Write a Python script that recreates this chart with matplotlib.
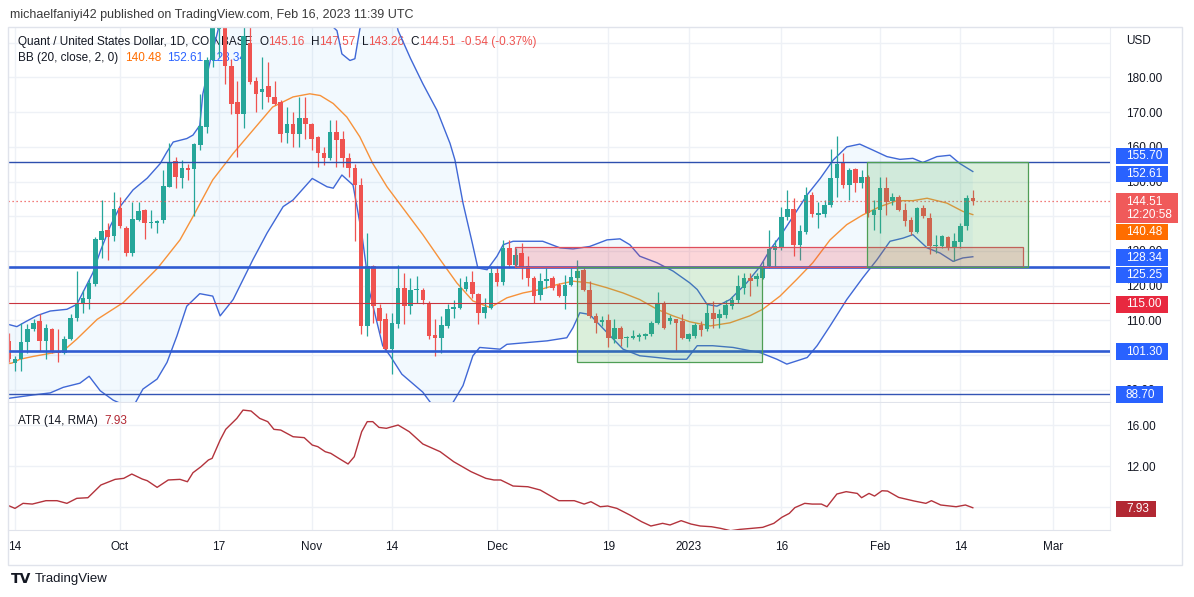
import matplotlib
matplotlib.use("Agg")
import matplotlib.pyplot as plt
from matplotlib.patches import Rectangle
from matplotlib.transforms import IdentityTransform
import numpy as np
import pandas as pd

plt.rcParams['font.family'] = ['Liberation Sans', 'DejaVu Sans']

W, H = 1194, 597

# ---------------- data ----------------
first_date = "2022-09-13"
ref_date = "2022-09-14"

opens = [104.0, 97.7, 99.0, 103.8, 107.6, 109.8, 104.1, 107.6, 101.2, 100.5,
         104.6, 110.8, 114.6, 116.2, 120.6, 133.3, 136.1, 134.2, 142.4, 136.6,
         129.4, 138.9, 141.9, 138.1, 138.2, 138.8, 148.5, 155.9, 151.0, 153.9,
         153.5, 160.5, 165.8, 184.9, 194.0, 197.0, 183.4, 172.9, 169.6, 190.0,
         179.1, 175.8, 177.5, 174.4, 172.9, 164.0, 166.7, 163.8, 168.2, 166.7,
         162.9, 158.1, 156.7, 164.3, 162.4, 156.7, 153.8, 149.0, 108.4, 125.6,
         113.6, 110.3, 101.7, 108.9, 119.4, 114.1, 118.7, 118.9, 115.1, 105.7,
         105.0, 108.4, 113.4, 113.6, 119.1, 121.0, 117.5, 112.0, 113.6, 123.7,
         121.0, 130.9, 126.1, 129.4, 125.6, 122.3, 117.2, 121.3, 122.3, 120.3,
         117.0, 120.3, 122.3, 124.6, 118.9, 111.3, 109.5, 110.0, 104.6, 107.9,
         104.8, 105.0, 105.2, 105.5, 106.0, 109.3, 114.9, 109.8, 110.3, 109.8,
         104.6, 105.5, 108.6, 107.4, 112.0, 110.8, 111.5, 114.1, 115.9, 119.4,
         122.3, 121.8, 122.3, 125.6, 130.4, 130.9, 139.7, 142.0, 131.8, 135.4,
         146.2, 140.4, 140.7, 143.3, 150.9, 155.7, 149.0, 153.5, 149.7, 151.4,
         140.4, 141.9, 148.1, 144.5, 145.7, 141.9, 139.0, 135.6, 142.3, 139.5,
         131.3, 131.3, 134.0, 130.9, 132.5, 137.1, 145.16]
highs = [106.5, 99.8, 109.3, 108.9, 110.3, 111.7, 108.9, 107.9, 107.4, 105.5,
         111.7, 124.2, 118.9, 121.9, 134.0, 144.7, 138.0, 147.1, 145.7, 137.1,
         144.2, 144.2, 142.0, 141.9, 139.0, 153.3, 161.0, 157.2, 156.2, 155.0,
         161.0, 175.3, 186.0, 198.0, 200.0, 199.0, 185.4, 179.1, 196.0, 195.0,
         180.1, 185.8, 184.5, 179.0, 173.4, 171.5, 170.0, 174.4, 174.4, 167.0,
         163.0, 160.0, 167.7, 167.7, 164.5, 158.1, 155.2, 150.9, 135.2, 126.1,
         114.6, 112.2, 112.2, 126.1, 123.7, 122.3, 122.7, 119.4, 115.5, 110.5,
         111.3, 114.6, 116.0, 122.3, 122.7, 124.2, 118.0, 116.5, 125.6, 125.6,
         133.2, 133.2, 130.9, 132.3, 128.5, 122.7, 123.7, 125.1, 122.7, 120.8,
         123.2, 125.1, 127.5, 125.1, 121.3, 112.2, 111.3, 111.7, 110.3, 108.4,
         105.5, 107.2, 106.5, 106.5, 109.8, 118.2, 115.6, 111.5, 110.5, 111.7,
         106.5, 109.3, 109.8, 115.1, 115.6, 113.2, 116.0, 117.0, 123.2, 123.7,
         123.7, 123.7, 127.0, 136.1, 133.2, 142.8, 147.6, 145.2, 137.6, 148.5,
         147.1, 144.2, 144.7, 159.5, 163.1, 158.1, 153.8, 153.8, 153.3, 151.9,
         144.7, 151.4, 151.4, 146.6, 146.2, 143.8, 139.9, 142.8, 143.3, 140.9,
         134.7, 134.7, 134.4, 135.2, 138.0, 146.2, 147.57]
lows = [98.0, 95.5, 95.5, 100.7, 107.0, 101.2, 98.8, 100.7, 97.9, 100.2,
        104.4, 109.8, 112.2, 113.2, 119.8, 128.0, 127.5, 132.8, 136.6, 128.5,
        128.5, 138.5, 133.4, 136.6, 135.3, 138.0, 148.3, 148.1, 148.1, 150.5,
        140.0, 159.1, 164.0, 183.0, 186.0, 178.2, 169.6, 157.0, 165.3, 178.2,
        170.1, 171.0, 173.0, 172.0, 161.4, 161.0, 160.0, 160.0, 162.4, 159.0,
        154.3, 154.8, 156.2, 154.3, 154.3, 151.4, 132.8, 106.0, 105.5, 109.3,
        106.5, 100.8, 94.5, 107.9, 108.9, 111.7, 115.1, 114.6, 104.6, 99.8,
        100.7, 107.9, 110.8, 113.2, 118.4, 116.5, 108.9, 110.8, 113.4, 119.9,
        120.3, 125.1, 125.1, 121.8, 119.9, 115.1, 116.0, 119.4, 118.9, 116.8,
        113.2, 119.9, 121.8, 118.4, 110.8, 106.5, 108.4, 102.2, 103.6, 102.7,
        102.2, 104.6, 104.1, 104.6, 105.5, 108.9, 107.4, 108.9, 101.2, 104.6,
        104.1, 105.0, 105.5, 106.9, 107.9, 107.9, 110.8, 113.2, 115.1, 117.5,
        117.0, 119.9, 121.8, 125.1, 125.6, 130.4, 139.0, 128.5, 127.5, 135.0,
        139.9, 136.6, 139.9, 142.8, 145.7, 148.1, 144.7, 147.1, 148.1, 139.9,
        136.1, 135.2, 140.4, 143.3, 141.4, 137.1, 134.7, 135.2, 139.5, 129.2,
        129.4, 130.9, 130.2, 127.0, 130.9, 136.1, 143.26]
closes = [99.0, 99.0, 103.8, 107.6, 109.3, 104.1, 107.9, 101.0, 100.5, 104.6,
          110.8, 114.6, 116.5, 120.8, 133.4, 135.9, 133.9, 142.1, 137.1, 129.4,
          139.2, 141.4, 138.2, 138.4, 138.7, 148.7, 155.7, 151.2, 154.0, 153.3,
          160.8, 166.0, 184.9, 196.0, 197.0, 183.4, 172.5, 169.6, 192.0, 178.7,
          175.3, 176.8, 174.5, 172.5, 163.8, 166.7, 163.8, 168.2, 166.5, 162.4,
          158.1, 156.7, 164.3, 161.9, 156.7, 153.8, 149.0, 108.4, 125.6, 114.1,
          109.8, 101.7, 109.3, 119.4, 114.1, 118.9, 119.0, 116.0, 105.5, 105.0,
          108.6, 113.2, 113.9, 119.4, 121.0, 117.5, 112.2, 113.8, 123.7, 121.0,
          130.9, 126.1, 128.9, 125.1, 122.3, 117.0, 121.3, 121.8, 119.4, 117.0,
          120.3, 122.5, 124.2, 118.9, 111.3, 109.3, 110.1, 105.0, 107.9, 104.6,
          105.0, 105.5, 105.7, 106.0, 109.3, 114.6, 107.9, 110.8, 109.3, 105.0,
          106.0, 108.6, 107.2, 112.0, 110.3, 111.7, 114.3, 116.0, 119.9, 122.3,
          121.3, 122.7, 125.6, 130.6, 131.3, 139.9, 142.0, 131.8, 135.9, 146.2,
          140.7, 140.9, 143.3, 150.9, 155.2, 149.0, 153.3, 149.7, 151.4, 140.9,
          141.9, 148.1, 144.2, 145.7, 141.9, 138.5, 135.6, 142.3, 140.1, 131.3,
          131.8, 134.2, 130.9, 132.8, 137.1, 145.2, 144.51]

# Bollinger bands (day offset from ref_date, value)
bb_upper = [(-1.2, 108.9), (0.3, 108.2), (1.9, 109.8), (3.6, 111.4), (5.7, 112.7), (8.4, 113.2),
            (10.0, 114.6), (12.6, 123.7), (13.8, 129.9), (15.4, 137.1), (17.0, 142.8), (19.1, 147.6),
            (21.4, 151.0), (23.5, 155.2), (24.6, 158.6), (25.6, 161.4), (27.8, 162.4), (28.8, 163.4),
            (29.9, 166.2), (30.4, 175.3), (31.6, 184.9), (33.2, 196.0), (38.0, 205.0), (44.5, 204.0),
            (49.4, 198.0), (52.1, 193.5), (52.9, 186.8), (54.2, 184.9), (55.0, 185.4), (55.8, 193.9),
            (57.4, 205.0), (59.9, 210.0), (62.0, 193.5), (64.0, 185.5), (66.0, 178.2), (68.3, 170.5),
            (70.4, 161.0), (71.2, 156.2), (72.5, 143.8), (74.0, 132.3), (74.9, 125.1), (76.4, 124.6),
            (78.0, 128.5), (79.0, 131.8), (80.6, 132.8), (82.8, 132.8), (85.4, 132.8), (88.2, 130.9),
            (90.3, 130.6), (93.0, 131.3), (95.8, 133.2), (97.9, 133.5), (99.5, 131.8), (101.1, 128.5),
            (103.9, 126.6), (106.5, 124.2), (109.2, 120.8), (110.4, 118.9), (112.0, 114.6), (113.6, 114.1),
            (115.7, 116.0), (118.4, 120.8), (120.6, 125.6), (122.2, 130.4), (123.8, 134.2), (125.9, 139.9),
            (128.2, 146.2), (130.3, 150.9), (132.4, 156.2), (134.6, 160.0), (136.7, 160.8), (138.8, 159.1),
            (141.1, 157.2), (143.2, 156.4), (145.3, 156.7), (146.9, 155.5), (149.2, 157.2), (151.3, 157.6),
            (152.9, 155.2), (155.0, 152.9)]
bb_basis = [(-1.2, 97.5), (-0.5, 97.7), (0.8, 98.8), (2.9, 99.6), (5.7, 100.5), (7.8, 101.2),
            (10.0, 104.6), (13.3, 110.3), (17.5, 115.1), (20.7, 120.8), (23.1, 125.1), (26.7, 133.2),
            (28.8, 139.9), (32.0, 150.5), (35.3, 158.1), (38.5, 164.8), (41.7, 171.5), (45.0, 174.4),
            (47.7, 175.3), (49.4, 174.8), (51.5, 172.5), (53.7, 168.6), (55.8, 162.9), (57.9, 155.2),
            (60.2, 148.5), (62.3, 143.5), (66.0, 134.7), (68.8, 127.5), (71.5, 120.8), (74.1, 115.6),
            (76.9, 113.7), (79.6, 116.5), (82.2, 117.9), (85.0, 118.9), (87.7, 120.3), (90.3, 121.3),
            (93.0, 120.8), (95.8, 119.4), (98.4, 117.9), (101.1, 116.0), (103.9, 113.2), (106.5, 111.3),
            (109.2, 109.6), (112.5, 108.4), (115.7, 109.3), (118.9, 111.3), (121.0, 113.2), (123.8, 117.0),
            (126.5, 121.8), (129.1, 126.6), (131.9, 133.2), (134.6, 137.6), (137.2, 140.4), (140.0, 142.8),
            (142.7, 144.5), (145.3, 144.5), (147.6, 145.2), (150.8, 143.8), (153.4, 141.4), (155.0, 140.48)]
bb_lower = [(-1.2, 87.4), (-0.8, 87.6), (2.9, 88.5), (5.7, 89.1), (7.8, 90.7), (10.5, 91.9),
            (12.0, 93.9), (13.8, 89.7), (15.9, 87.0), (17.8, 85.5), (19.4, 86.0), (20.7, 90.2),
            (23.0, 93.1), (24.6, 97.9), (26.2, 105.5), (27.8, 114.1), (29.9, 117.7), (32.0, 117.0),
            (33.2, 111.3), (35.3, 116.0), (38.5, 127.5), (40.8, 135.2), (43.4, 142.8), (45.0, 144.7),
            (48.1, 150.9), (50.5, 148.5), (51.5, 148.1), (52.9, 151.9), (54.7, 149.0), (56.1, 135.2),
            (57.4, 118.0), (59.5, 102.7), (60.7, 99.8), (62.6, 94.5), (66.0, 89.3), (67.2, 86.4),
            (68.8, 84.0), (70.9, 86.4), (72.5, 91.2), (74.1, 99.8), (75.2, 102.2), (78.5, 101.7),
            (79.6, 103.1), (82.8, 103.6), (86.1, 104.1), (89.3, 105.0), (90.3, 107.9), (91.4, 112.2),
            (93.0, 111.7), (95.8, 106.5), (98.4, 101.7), (101.1, 99.8), (103.9, 99.3), (106.5, 98.8),
            (108.7, 98.8), (110.4, 102.7), (112.9, 102.7), (116.2, 102.2), (120.6, 100.7), (123.3, 98.8),
            (124.9, 97.4), (128.2, 99.3), (129.8, 102.7), (131.9, 108.4), (134.6, 116.0), (137.2, 122.3),
            (139.5, 127.5), (141.6, 132.8), (143.7, 133.7), (145.3, 134.7), (147.6, 130.9), (149.7, 129.4),
            (151.8, 127.0), (153.4, 128.0), (155.0, 128.34)]

# ATR (14, RMA)
atr = [(-0.9, 8.10), (0.0, 7.87), (1.3, 8.36), (2.8, 8.29), (5.0, 8.62), (6.8, 8.62), (8.4, 8.36),
       (10.0, 8.85), (11.8, 8.91), (13.9, 10.15), (16.2, 10.70), (17.6, 10.80), (18.9, 11.22),
       (20.6, 10.73), (21.4, 10.57), (23.0, 9.92), (24.8, 10.64), (26.7, 10.70), (27.9, 10.47),
       (28.8, 11.35), (30.1, 11.94), (31.3, 12.59), (31.9, 12.75), (33.2, 14.54), (34.1, 15.58),
       (35.9, 16.65), (36.9, 17.46), (38.2, 17.37), (39.6, 16.65), (40.9, 16.33), (41.9, 15.58),
       (43.0, 15.51), (45.0, 14.86), (46.8, 14.77), (48.1, 14.05), (49.0, 13.89), (50.2, 13.40),
       (51.1, 13.24), (52.4, 12.75), (53.9, 12.20), (54.9, 12.91), (56.1, 15.35), (57.0, 16.33),
       (57.9, 16.33), (58.9, 15.77), (60.1, 15.68), (62.0, 16.00), (63.8, 15.35), (66.0, 14.15),
       (68.8, 13.40), (71.0, 12.42), (73.8, 11.45), (76.2, 10.80), (77.5, 10.64), (78.6, 10.64),
       (80.6, 10.05), (83.0, 9.98), (85.0, 9.66), (88.0, 8.62), (90.5, 8.62), (92.1, 8.29),
       (93.2, 8.52), (94.7, 8.03), (95.9, 8.10), (97.4, 7.87), (99.5, 7.22), (101.4, 6.57),
       (102.9, 6.15), (104.8, 6.41), (106.0, 6.25), (107.8, 6.67), (109.4, 6.34), (110.9, 6.15),
       (112.7, 6.08), (114.2, 5.92), (115.8, 5.69), (117.3, 5.82), (119.2, 5.92), (121.0, 6.02),
       (122.8, 6.41), (124.1, 7.00), (125.3, 7.38), (126.2, 7.94), (127.8, 8.36), (129.0, 8.29),
       (130.5, 8.29), (131.4, 8.03), (133.0, 9.27), (134.5, 9.50), (136.3, 9.33), (137.0, 8.91),
       (138.2, 9.33), (139.1, 9.07), (140.3, 9.59), (141.2, 9.56), (143.0, 8.94), (145.5, 8.59),
       (147.4, 8.36), (148.3, 8.62), (149.8, 8.20), (152.3, 8.03), (153.8, 8.20), (155.0, 7.93)]

tick_dates = ["2022-09-14", "2022-10-01", "2022-10-17", "2022-11-01", "2022-11-14", "2022-12-01",
              "2022-12-19", "2023-01-01", "2023-01-16", "2023-02-01", "2023-02-14", "2023-03-01"]
tick_labels = ["14", "Oct", "17", "Nov", "14", "Dec", "19", "2023", "16", "Feb", "14", "Mar"]

# price-scale labels that remain (partly) visible next to the value boxes
price_ticks = [90, 110, 120, 130, 150, 160, 170, 180]
atr_ticks = [12, 16]

levels = [155.70, 125.25, 115.00, 101.30, 88.70]
# zones: (start day, end day, low, high)
zones_pink = [(80.9, 163.1, 125.25, 131.2)]
zones_green = [(91.0, 120.9, 98.1, 125.25), (137.9, 164.0, 125.25, 155.70)]

# ---------------- figure ----------------
fig = plt.figure(figsize=(W / 100, H / 100), dpi=100)
fig.patch.set_facecolor('white')


def fx(px):
    return px / W


def fy(py):
    return 1 - py / H


L, R = 8, 1110
T1, B1 = 28, 402
T2, B2 = 403, 530
ax = fig.add_axes([fx(L), fy(B1), fx(R) - fx(L), fy(T1) - fy(B1)])
ax2 = fig.add_axes([fx(L), fy(B2), fx(R) - fx(L), fy(T2) - fy(B2)], sharex=ax)

ref = pd.Timestamp(ref_date)
dates = pd.date_range(first_date, periods=len(opens), freq="D")
xs = np.array([(d - ref).days for d in dates], dtype=float)
tick_x = [(pd.Timestamp(t) - ref).days for t in tick_dates]

ax.set_xlim(-1.133, 177.2)
ax.set_ylim(86.48, 194.26)
ax2.set_ylim(5.76, 18.15)

GRID = '#eef1f6'
DARK = '#131722'
for a in (ax, ax2):
    a.set_facecolor('white')
    for s in ('top', 'left'):
        a.spines[s].set_visible(False)
    a.spines['right'].set_color('#eceef3')
    a.spines['bottom'].set_color('#e0e3eb')
    a.set_xticks(tick_x)
    a.grid(True, color=GRID, lw=1, zorder=0)
    a.set_axisbelow(True)
    a.yaxis.tick_right()
    a.tick_params(axis='y', length=0, pad=11.5, labelsize=8.5, labelcolor=DARK)
    a.tick_params(axis='x', length=0)

ax.tick_params(axis='x', labelbottom=False)
ax2.set_xticklabels(tick_labels)
ax2.tick_params(axis='x', pad=8, labelsize=8.5, labelcolor=DARK)

ax.set_yticks(price_ticks)
ax.set_yticklabels([f"{v:.2f}" for v in price_ticks])
for g in (100, 140, 190):
    ax.axhline(g, color=GRID, lw=1, zorder=0)
ax2.set_yticks(atr_ticks)
ax2.set_yticklabels([f"{v:.2f}" for v in atr_ticks])
for g in (4, 8):
    ax2.axhline(g, color=GRID, lw=1, zorder=0)

# Bollinger band fill & lines
up_d, up_v = zip(*bb_upper)
lo_d, lo_v = zip(*bb_lower)
mid_d, mid_v = zip(*bb_basis)
ax.fill(list(up_d) + list(lo_d)[::-1], list(up_v) + list(lo_v)[::-1],
        color='#2196f3', alpha=0.055, lw=0, zorder=1)
ax.plot(up_d, up_v, color='#4068d6', lw=1.0, zorder=3)
ax.plot(lo_d, lo_v, color='#4068d6', lw=1.0, zorder=3)
ax.plot(mid_d, mid_v, color='#f7923a', lw=1.0, zorder=3)

# candles
o = np.array(opens); h = np.array(highs); l = np.array(lows); c = np.array(closes)
up = c >= o
cols = np.where(up, '#26a69a', '#ef5350')
ax.vlines(xs, l, h, colors=cols, lw=0.9, zorder=4)
ax.bar(xs, np.maximum(np.abs(c - o), 0.35), bottom=np.minimum(o, c), width=0.74,
       color=cols, lw=0, zorder=4.1)

# horizontal levels
level_styles = {155.70: ('#2d4fae', 1.0), 125.25: ('#2f5bd2', 1.9), 115.00: ('#c9343f', 0.8),
                101.30: ('#2f5bd2', 1.9), 88.70: ('#3355b5', 1.0)}
for v in levels:
    colr, lw = level_styles[v]
    ax.axhline(v, color=colr, lw=lw, zorder=5)

ax.axhline(closes[-1], color='#ef5350', lw=0.9, ls=(0, (1, 2.2)), zorder=5)

# zones
for (d0, d1, lo_, hi_) in zones_pink:
    ax.add_patch(Rectangle((d0, lo_), d1 - d0, hi_ - lo_, facecolor=(0.95, 0.21, 0.27, 0.2),
                           edgecolor='#de4f5c', lw=0.9, zorder=6))
for (d0, d1, lo_, hi_) in zones_green:
    ax.add_patch(Rectangle((d0, lo_), d1 - d0, hi_ - lo_, facecolor=(0.30, 0.69, 0.31, 0.2),
                           edgecolor='#4f9e55', lw=0.9, zorder=6))

# ATR line
a_d, a_v = zip(*atr)
ax2.plot(a_d, a_v, color='#b3333c', lw=1.0, zorder=3)

# ---------------- text ----------------
renderer = fig.canvas.get_renderer()
IDT = IdentityTransform()


def seq_text(axis, x, y_img, parts, fs=8.5):
    for txt, colr, gap in parts:
        t = axis.text(x, H - y_img, txt, transform=IDT, color=colr, fontsize=fs,
                      va='center', ha='left', zorder=1)
        x += t.get_window_extent(renderer=renderer).width + gap


RED = '#ef5350'
BLUE = '#2962ff'
seq_text(ax, 18, 42, [("Quant / United States Dollar, 1D, COINBASE", DARK, 7),
                      ("O", DARK, 0), ("145.16", RED, 6), ("H", DARK, 0), ("147.57", RED, 6),
                      ("L", DARK, 0), ("143.26", RED, 6), ("C", DARK, 0), ("144.51", RED, 6),
                      ("-0.54 (-0.37%)", RED, 0)])
seq_text(ax, 18, 58, [("BB (20, close, 2, 0)", DARK, 7), ("140.48", '#ff6d00', 6),
                      ("152.61", BLUE, 6), ("128.34", BLUE, 0)])
seq_text(ax2, 18, 421, [("ATR (14, RMA)", DARK, 6), ("7.93", '#b22833', 0)])

fig.text(10, H - 15, "michaelfaniyi42 published on TradingView.com, Feb 16, 2023 11:39 UTC",
         transform=IDT, fontsize=9, color='#3a3a3a', va='center', ha='left')
fig.text(1126, H - 41, "USD", transform=IDT, fontsize=8.5, color=DARK, va='center', ha='left')
fig.text(11, H - 579, "TV", transform=IDT, fontsize=10, color=DARK, va='center', ha='left',
         fontweight='bold', family='DejaVu Sans')
fig.text(35, H - 579, "TradingView", transform=IDT, fontsize=9.5, color=DARK, va='center', ha='left')

# frame
fig.add_artist(Rectangle((8, H - 565), 1174, 538, transform=IDT, fill=False,
                         edgecolor='#e0e3eb', lw=1, zorder=30))


def price_label(text, y_img, colr, width=52, height=16.5):
    fig.add_artist(Rectangle((1116, H - y_img - height / 2), width, height, transform=IDT,
                             facecolor=colr, edgecolor='none', zorder=20))
    fig.text(1126, H - y_img, text, transform=IDT, color='white', fontsize=8.5,
             va='center', ha='left', zorder=21)


def data_y(axis, v):
    return H - axis.transData.transform((0, v))[1]


price_label("155.70", data_y(ax, 155.70) - 6.0, BLUE)
price_label("152.61", data_y(ax, 152.61) + 1.3, BLUE)
y144 = data_y(ax, closes[-1])
fig.add_artist(Rectangle((1116, H - (y144 + 22.6)), 62, 30.6, transform=IDT,
                         facecolor='#f05a5a', edgecolor='none', zorder=20))
fig.text(1126, H - (y144 + 1.0), "144.51", transform=IDT, color='white', fontsize=8.5,
         va='center', ha='left', zorder=21)
fig.text(1126, H - (y144 + 14.5), "12:20:58", transform=IDT, color='white', fontsize=8.5,
         va='center', ha='left', zorder=21)
price_label("140.48", data_y(ax, 140.48) + 17.4, '#ff6d00')
price_label("128.34", data_y(ax, 128.34) + 0.9, BLUE)
price_label("125.25", data_y(ax, 125.25) + 7.5, BLUE)
price_label("115.00", data_y(ax, 115.00) + 1.3, '#e8283f')
price_label("101.30", data_y(ax, 101.30) + 1.0, BLUE)
price_label("88.70", data_y(ax, 88.70) + 0.4, BLUE, width=47)
price_label("7.93", data_y(ax2, 7.93) + 1.0, '#b22833', width=40)

fig.savefig("out.png", dpi=100, facecolor='white')
